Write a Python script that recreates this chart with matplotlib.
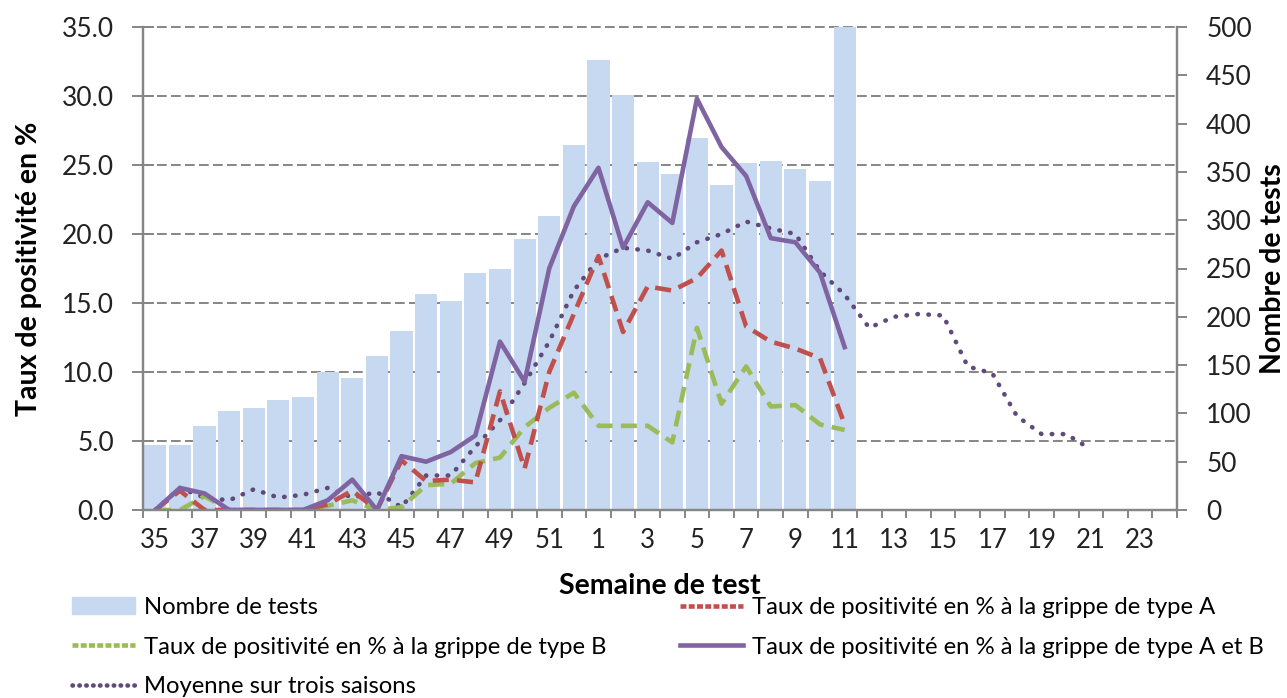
import numpy as np
import matplotlib.pyplot as plt
from matplotlib.lines import Line2D
from matplotlib.patches import Patch

plt.rcParams['font.family'] = ['Lato', 'DejaVu Sans']

# semaines 35 -> 52 puis 1 -> 24
weeks = list(range(35, 53)) + list(range(1, 25))

nb_tests = [67, 67, 87, 102, 106, 114, 117, 143, 137, 159, 185, 224, 216, 245, 249, 281, 304, 378,
            466, 430, 360, 348, 385, 336, 359, 361, 353, 341, 500]

taux_a = [0, 1.4, 0, 0, 0, 0, 0, 0.4, 1.4, 0, 3.6, 2.1, 2.2, 2.0, 8.6, 3.0, 10.0, 14.2,
          18.4, 12.9, 16.2, 15.9, 16.8, 18.8, 13.3, 12.2, 11.7, 11.0, 6.2]

taux_b = [0, 0, 1.0, 0, 0, 0, 0, 0.3, 0.7, 0, 0.2, 1.8, 1.9, 3.4, 3.8, 6.0, 7.4, 8.5,
          6.1, 6.1, 6.1, 4.9, 13.2, 7.7, 10.4, 7.5, 7.6, 6.2, 5.8]

taux_ab = [0, 1.6, 1.2, 0, 0, 0, 0, 0.7, 2.2, 0, 3.9, 3.5, 4.2, 5.4, 12.2, 9.3, 17.5, 22.0,
           24.8, 19.0, 22.3, 20.8, 29.8, 26.3, 24.2, 19.7, 19.4, 17.2, 11.8]

moyenne = [0, 1.6, 0.9, 0.7, 1.5, 0.9, 1.1, 1.6, 0.9, 1.3, 0.2, 2.5, 2.5, 4.6, 6.5, 9.2, 12.2, 15.9,
           18.2, 19.0, 18.8, 18.2, 19.4, 20.0, 20.9, 20.4, 20.0, 17.3, 15.6,
           13.2, 14.0, 14.2, 14.1, 10.4, 9.9, 6.8, 5.5, 5.5, 4.4]


def pad(vals):
    out = np.full(len(weeks), np.nan)
    out[:len(vals)] = vals
    return out


x = np.arange(len(weeks))
grey = '#868686'
dotted = (0, (0.1, 2.3))

fig = plt.figure(figsize=(12.87, 6.98), dpi=100)
ax = fig.add_axes([143 / 1287, 1 - 510 / 698, (1177 - 143) / 1287, (510 - 27) / 698])
ax2 = ax.twinx()

# barres sur l'axe de droite, dessinées derrière
ax.set_zorder(ax2.get_zorder() + 1)
ax.patch.set_visible(False)
ax2.bar(x, pad(nb_tests), width=0.9, color='#C6D9F0', zorder=1)
ax2.set_ylim(0, 500)
ax2.set_yticks(np.arange(0, 501, 50))

for v in np.arange(5, 36, 5):
    ax2.axhline(v * 500 / 35, color=grey, lw=1.4, ls=(0, (5, 2.2)), zorder=0.5, clip_on=False)

ax.plot(x, pad(moyenne), color='#604A7B', lw=3.3, ls=dotted, dash_capstyle='round')
ax.plot(x, pad(taux_b), color='#9BBB59', lw=3.3, ls=(0, (3.5, 1.8)))
ax.plot(x, pad(taux_a), color='#C0504D', lw=3.3, ls=(0, (3.5, 1.8)))
ax.plot(x, pad(taux_ab), color='#8064A2', lw=3.3)

ax.set_ylim(0, 35)
ax.set_xlim(-0.5, len(weeks) - 0.5)
ax.set_yticks(np.arange(0, 36, 5))
ax.set_yticklabels([f'{v:.1f}' for v in np.arange(0, 36, 5)])

ax.set_xticks(x[::2])
ax.set_xticklabels([str(w) for w in weeks][::2])
ax.set_xticks(np.arange(-0.5, len(weeks), 1), minor=True)
ax.tick_params(axis='x', which='major', length=0, labelsize=18.5, pad=13, colors='#222222')
ax.tick_params(axis='x', which='minor', length=6, width=1.4, color=grey, direction='out')
ax.tick_params(axis='y', length=16, width=1.4, color=grey, direction='inout', labelsize=19,
               labelcolor='#222222', pad=13)
ax2.tick_params(axis='y', length=7, width=1.4, color=grey, direction='out', labelsize=19,
                labelcolor='#222222', pad=14)

for a in (ax, ax2):
    a.spines['top'].set_visible(False)
    for s in ('left', 'right', 'bottom'):
        a.spines[s].set_color(grey)
        a.spines[s].set_linewidth(1.6)

ax.set_ylabel('Taux de positivité en %', fontsize=20.5, fontweight='bold', labelpad=14)
ax2.set_ylabel('Nombre de tests', fontsize=20.5, fontweight='bold', labelpad=6)
ax.set_xlabel('Semaine de test', fontsize=20.5, fontweight='bold', labelpad=14)

h_bar = Patch(color='#C6D9F0')
h_a = Line2D([], [], color='#C0504D', lw=3.3, ls=(0, (1.3, 0.5)))
h_b = Line2D([], [], color='#9BBB59', lw=3.3, ls=(0, (1.3, 0.5)))
h_ab = Line2D([], [], color='#8064A2', lw=3.3)
h_m = Line2D([], [], color='#604A7B', lw=3.3, ls=(0, (0.1, 1.4)), dash_capstyle='round')

leg_kw = dict(frameon=False, fontsize=17.2, handlelength=2.65, handletextpad=0.35,
              labelspacing=0.78, loc='upper left', borderpad=0, borderaxespad=0)
fig.legend([h_bar, h_b, h_m],
           ['Nombre de tests',
            'Taux de positivité en % à la grippe de type B',
            'Moyenne sur trois saisons'],
           bbox_to_anchor=(72 / 1287, 1 - 597 / 698), **leg_kw)
fig.legend([h_a, h_ab],
           ['Taux de positivité en % à la grippe de type A',
            'Taux de positivité en % à la grippe de type A et B'],
           bbox_to_anchor=(680 / 1287, 1 - 597 / 698), **leg_kw)

fig.savefig('out.png', dpi=100)
